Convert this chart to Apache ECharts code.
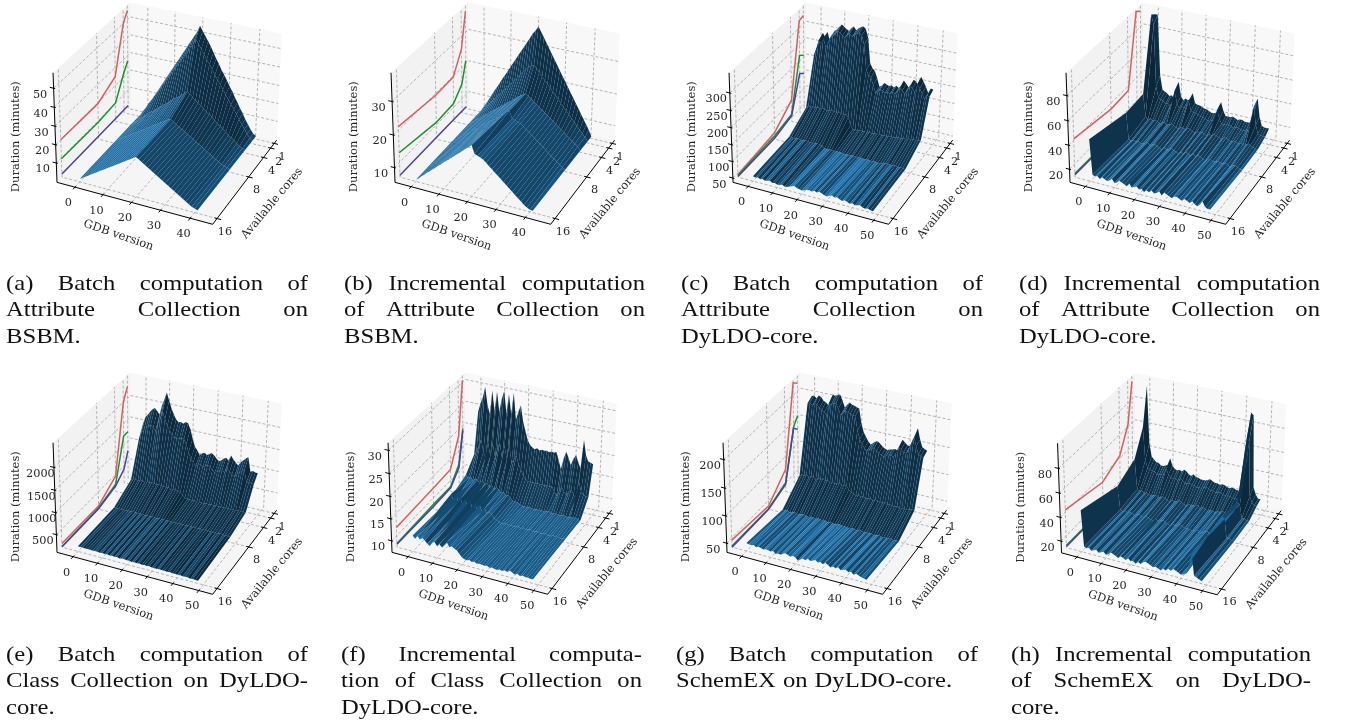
<!DOCTYPE html>
<html><head><meta charset="utf-8">
<style>html,body{margin:0;padding:0;background:#fff}#c{width:1346px;height:724px}</style>
<script src="https://cdn.jsdelivr.net/npm/echarts@6/dist/echarts.min.js"></script>
</head><body><div id="c"></div>
<script>
const coreRows=[1,2,4,8,16];
const xTicks40=[0,10,20,30,40];
const xTicks50=[0,10,20,30,40,50];

const a1=[1,3.6,6.3,8.9,11.6,14.2,16.9,19.5,22.2,24.8,27.5,30,32.7,35.3,38,40.6,43.3,45.9,48.6,51.2,55,52.5,50,47.5,45,42,39,36.5,33.5,31,28.5,25.5,23,20,17.5,14.5,12,9,6.5,4,2,1];
const a2=[1,3.3,5.6,8.3,10.6,13,15.3,17.6,20.4,22.7,25,27.3,29.6,32.4,34.7,37,39.3,41.6,44.4,46.7,50,47.6,45.3,42.6,40.2,38,35.6,32.8,30.5,28.2,25.9,23.1,20.8,18.5,16.2,13.9,11.1,8.8,6.5,4.2,2,1];
const a4=[1,2,3.5,5,6,7.5,9,10,11,12.5,13.5,15,16,17,18.5,20,21,22,23.5,24.5,26,25,23.5,22,21,20,18.5,17,16,15,13.5,12,11,10,8.5,7,6,5,3.5,2.5,1.5,1];
const a8=[1,2,3,4,5,6,7,8,9,10,11,12,13,14,15,16,17,18,19,20,20.5,19.5,18.5,17.5,16.5,15.5,14.5,13.5,12.5,11.5,10.5,9.5,8.5,7.5,6.5,5.5,4.5,3.5,2.5,2,1.5,1];
const a16=[1,2,3,4,5,6,7,8,9,10,11,12,13,14,15,16,17,18,19,20,21,20,19,18,17,16,15,14,13,12,11,10,9,8,7,6,5,4,3,2,1.5,1];
const aRed=[55,50,25,19.5,20],aGreen=[27,22,10,9,9.5],aPurple=[1,1,1,1,1];

const b1=[6,7.5,8.9,10.4,11.9,13.4,14.8,16.3,17.8,19.2,20.7,22.2,23.7,25.1,26.6,28.1,29.5,31,32.5,34,35.1,36.5,35,33.5,32,30.4,28.9,27.4,25.9,24.4,22.9,21.4,19.9,18.4,16.9,15.4,13.9,12.4,10.9,9.4,7.9,6];
const b2=[6,7,8,9,10,11,12,13,14,15,16,17,18,19,20,21,22,23,24,25,25.5,26,25,24,23,22,21,20,19,18,17,16,15,14,13,12,11,10,9,8,7,6];
const b4=[6,6.6,7.3,8,8.6,9.3,10,10.6,11.3,12,12.6,13.3,14,14.6,15.3,16,16.6,17.3,18,18.6,19.3,19.8,19.2,18.5,17.8,17.2,16.5,15.8,15.1,14.5,13.8,13.1,12.4,11.8,11.1,10.4,9.7,9,8.3,7.7,7,6];
const b8=[6,6.7,7.4,8,8.7,9.4,10,10.7,11.4,12,12.7,13.4,14,14.7,15.4,16,16.7,17.4,18,18.7,19.4,20,17.8,17.5,17.2,16.9,16.2,15.5,14.8,14.1,13.4,12.7,12,11.3,10.6,9.9,9.2,8.5,7.8,7.1,6.5,6];
const b16=[6,6.7,7.5,8.2,9,9.7,10.5,11.2,12,12.7,13.5,14.2,15,15.7,16.5,17.2,18,18.7,19.5,20.2,21,18.6,18.2,17.9,17.5,16.8,16,15.3,14.5,13.8,13,12.3,11.5,10.8,10,9.3,8.5,7.8,7,6.5,6,6];
const bRed=[36.5,26,19.7,19.4,21],bGreen=[21,14.7,11.2,10.8,13],bPurple=[6,6,6,6,6];

const c1=[240,258,286,275,292,265,288,300,305,315,323,318,312,308,318,325,315,322,328,331,325,300,225,212,205,185,160,165,175,172,169,172,168,175,170,180,196,188,179,190,205,200,190,218,205,192,175,190,188];
const c2=[230,250,275,268,285,258,280,290,298,306,315,312,305,300,310,316,308,315,320,324,318,292,218,205,198,178,155,160,168,166,162,166,162,168,165,174,188,180,172,184,198,194,184,210,198,185,170,183,180];
const c4=[91,98,96,100,97,102,99,103,100,98,100,104,101,99,103,100,98,101,92,70,58,60,58,62,59,61,60,63,60,62,62,64,61,64,62,66,63,66,65,68,66,70,68,71,69,73,71,74,76];
const c8=[56,57,55,56,57,55,56,57,56,54,56,55,57,55,54,48,46,47,49,47,48,46,47,45,46,46,45,47,46,45,47,45,44,46,44,45,46,44,45,45,48,49,47,48,49,47,48,47,46];
const c16=[52,50,53,49,51,48,50,52,47,49,46,48,50,46,47,50,53,56,52,50,48,51,54,55,53,57,54,58,55,52,50,54,57,53,56,52,49,53,50,47,50,46,48,50,46,44,47,44,43];
const cRed=[326,322,104,57,44],cGreen=[205,217,60,47,42],cPurple=[148,161,55,40,39];

const d1=[93,93,42,30,29,28,26,27,25,30,40,28,25,27,26,28,33,25,24,24,23,22,22,21,20,20,21,22,31,24,20,20,20,21,20,19,20,20,19,19,19,21,30,41,26,19,18,18,18];
const d2=[96,88,36,27,26,25,23,24,22,27,36,25,22,24,23,25,30,22,21,21,20,19,19,18,17,17,18,19,28,21,17,17,17,18,17,16,17,17,16,16,16,18,27,38,23,16,15,15,15];
const d4=[36,17,15,16,15,16,15,14,15,16,14,15,16,15,14,13,15,15,14,16,15,14,13,15,14,15,14,13,15,14,16,15,14,13,15,15,14,13,14,14,13,14,13,13,15,14,13,12,12];
const d8=[35,13,12,13,12,13,12,12,13,14,12,13,14,13,12,11,13,12,13,14,13,12,11,13,12,14,13,12,14,12,14,13,12,11,13,13,12,12,13,12,12,13,12,11,13,13,12,11,11];
const d16=[44,15,14,15,13,15,14,13,14,16,13,14,16,15,14,13,16,13,14,15,13,14,12,14,13,15,13,14,16,13,16,15,14,13,15,15,14,13,15,14,13,15,13,12,14,17,13,12,12];
const dRed=[93,96,36,35,41],dGreen=[16,16,11,11,12],dPurple=[14,14,10.5,10,11];

const e1=[1500,1655,1720,1800,1870,1909,1850,1782,2000,2150,2322,2150,1980,1860,1750,1703,1720,1690,1740,1727,1600,1400,1219,1150,1052,1100,1130,1090,1120,1163,1120,1060,1012,1040,1090,1130,1070,1203,1120,1060,1012,1100,1150,1210,1251,933,960,940,933];
const e2=[1250,1400,1450,1500,1580,1620,1560,1500,1680,1800,1980,1820,1680,1580,1480,1440,1450,1430,1470,1460,1350,1180,1030,970,890,930,950,920,945,980,945,890,850,880,920,950,900,1015,945,895,850,925,970,1020,1055,790,810,790,785];
const e4=[460,490,500,480,510,495,480,505,490,515,507,490,520,480,500,470,495,460,480,470,460,440,390,345,320,330,318,325,312,326,320,310,328,315,332,318,335,322,338,325,340,328,338,330,342,335,345,338,340];
const e8=[225,228,226,230,224,228,233,227,236,230,235,229,234,226,232,228,234,229,225,234,228,232,225,234,228,226,232,227,234,229,226,232,227,234,228,225,233,227,232,228,224,230,225,228,231,224,229,225,222];
const e16=[212,208,212,206,210,206,200,208,203,196,203,198,206,192,200,194,202,186,196,199,188,194,180,190,183,192,178,185,176,187,178,181,170,183,173,176,165,179,168,172,163,174,159,166,169,154,164,157,152];
const eRed=[2270,2000,460,170,178],eGreen=[1219,1211,264,120,106],ePurple=[767,417,225,100,100];

const f1=[24,26,27.5,30,26,24,29.5,25,29.5,25,28,30,25,29.5,25,30,24,26,27.5,24,22,20,19,18.5,18.2,18.6,18.2,18.5,18.4,18.5,18.3,18.6,18.4,18.7,17,15,17.5,19.3,18,16.4,18,19,17.5,16.2,22.8,19.5,18.2,18,17.8];
const f2=[15,16,17,19,16,15,18.5,15.5,18.5,15.5,17.5,19,15.5,18.5,15.5,19,15,16,17,15,14,12.5,12,11.6,11.5,11.7,11.5,11.6,11.6,11.6,11.5,11.7,11.6,11.8,10.7,9.8,11,12,11.3,10.4,11.3,12,11,10.3,14.2,12.2,11.5,11.3,11.2];
const f4=[12.2,11.5,12,11.2,11.8,11.6,10.8,11.7,11,11.5,10.6,11.2,10.4,10.9,10.5,10,10.2,9.6,9.8,9.2,8.7,8.6,8.5,8.3,7.9,8.1,7.9,8.2,8,7.9,8.1,8,8.2,7.9,8.1,8.3,7.9,8,8.2,7.9,8,8.2,8.1,7.9,8.2,8.1,8.3,8,8];
const f8=[10.5,12,10,12,10.5,11.5,9.7,11.5,10,11.5,9.6,11,9.8,11,9.6,10.5,9.5,10,9.6,8.8,8.5,8.2,8,8.1,8.2,8,8.2,8,8.1,8.2,8,8.2,8,8.1,8.3,8,8.1,8.2,8,8.1,8.2,8,8.1,8.3,8,8.2,8,8.1,8.1];
const f16=[11,10.4,11.2,10.5,11,10.6,10,9.6,10.5,10.8,10,10.6,10,10.6,11.5,10.5,10.9,10.5,10.3,9.6,9,8.7,8.6,8.8,8.5,8.7,8.4,8.6,8.5,8.4,8.6,8.3,8.5,8.3,8.2,8.5,8.3,8.6,8.4,8.9,8.5,8.3,8.6,8.2,8.5,8.3,8.4,8.2,8.3];
const fRed=[30.4,18.5,12.6,12.3,11.85],fGreen=[19.3,11.8,8.5,8.5,8.2],fPurple=[18.8,11,8.2,8,8];

const g1=[196,198,194,200,198,192,190,186,183,207,205,208,210,200,188,194,199,196,195,193,192,165,150,142,135,130,134,138,139,135,131,128,127,129,130,132,130,141,152,148,144,143,150,165,179,160,146,144,142];
const g2=[190,192,188,193,191,186,184,180,177,198,197,200,201,192,181,187,192,189,188,186,185,160,145,137,130,126,129,133,134,130,127,124,123,125,126,128,126,136,146,143,139,138,145,159,170,155,141,139,137];
const g4=[70,73,72,75,71,74,73,70,74,72,75,72,74,71,73,70,72,74,71,73,71,66,62,60,58,60,57,59,56,58,58,56,59,56,57,55,58,54,56,55,54,56,53,55,54,56,55,57,56];
const g8=[39,38,40,37,38,40,38,37,39,40,38,37,39,38,37,39,38,37,38,36,38,37,36,37,38,36,37,35,36,37,36,35,37,36,34,36,35,36,34,35,36,34,35,34,36,35,34,35,34];
const g16=[48,47,46,48,45,47,46,44,46,45,44,46,42,44,43,46,48,46,44,47,45,41,44,47,45,49,46,48,50,47,49,46,50,47,44,47,45,48,44,46,47,44,46,42,45,43,41,40,39];
const gRed=[214,222,75,39,46],gGreen=[154,140,50,34,35],gPurple=[128,138,47,33,33];

const h1=[94,45,34,32,30,30,28,28,29,30,36,30,28,27,28,27,29,28,26,25,27,25,25,24,24,24,25,26,25,24,24,23,24,24,23,22,23,23,22,22,21,22,50,90,88,28,22,19,19];
const h2=[62,34,28,27,26,26,24,24,25,26,31,26,24,23,24,23,25,24,22,22,23,22,22,21,21,21,22,23,22,21,21,20,21,21,20,19,20,20,19,19,18,19,40,72,70,24,19,17,17];
const h4=[42,16,15,16,14,15,14,13,14,15,13,14,15,14,13,12,14,13,14,15,14,13,12,14,13,14,15,14,13,14,13,12,13,13,12,14,13,15,14,13,12,13,18,26,24,13,13,12,12];
const h8=[34,14,13,14,13,14,13,12,13,14,13,12,14,13,12,11,14,12,13,14,13,12,11,13,12,13,14,13,12,12,12,11,12,13,12,12,13,14,13,12,11,13,18,30,28,12,13,11,11];
const h16=[45,15,14,15,13,14,15,13,14,15,13,14,16,15,14,13,15,14,13,15,13,14,12,14,13,15,16,15,14,13,14,13,12,14,13,15,14,16,15,14,13,14,15,24,33,15,14,13,12];
const hRed=[95,62,42,34,42],hGreen=[14,14,11,11,12],hPurple=[13,13,10.5,10.5,11];

const zTicksA=[10,20,30,40,50],zTicksB=[10,20,30],zTicksC=[50,100,150,200,250,300],zTicksD=[20,40,60,80],zTicksE=[500,1000,1500,2000],zTicksF=[10,15,20,25,30],zTicksG=[50,100,150,200],zTicksH=[20,40,60,80];

const captionA=["(a) Batch computation of","Attribute Collection on","BSBM."];
const captionB=["(b) Incremental computation","of Attribute Collection on","BSBM."];
const captionC=["(c) Batch computation of","Attribute Collection on","DyLDO-core."];
const captionD=["(d) Incremental computation","of Attribute Collection on","DyLDO-core."];
const captionE=["(e) Batch computation of","Class Collection on DyLDO-","core."];
const captionF=["(f) Incremental computa-","tion of Class Collection on","DyLDO-core."];
const captionG=["(g) Batch computation of","SchemEX on DyLDO-core."];
const captionH=["(h) Incremental computation","of SchemEX on DyLDO-","core."];

const panels=[
 {rows:[a1,a2,a4,a8,a16],lines:[aRed,aGreen,aPurple],xTicks:xTicks40,zTicks:zTicksA,xLim:[-6.5,47.5],zLim:[-0.7,58],off:[0,0],cap:captionA,capBox:[6,308,284]},
 {rows:[b1,b2,b4,b8,b16],lines:[bRed,bGreen,bPurple],xTicks:xTicks40,zTicks:zTicksB,xLim:[-5.9,48.5],zLim:[5.4,38.4],off:[338,0],cap:captionB,capBox:[344,645,284]},
 {rows:[c1,c2,c4,c8,c16],lines:[cRed,cGreen,cPurple],xTicks:xTicks50,zTicks:zTicksC,xLim:[-6.3,55.7],zLim:[37,357],off:[676,0],cap:captionC,capBox:[681,983,284]},
 {rows:[d1,d2,d4,d8,d16],lines:[dRed,dGreen,dPurple],xTicks:xTicks50,zTicks:zTicksD,xLim:[-6.4,55.6],zLim:[9,98],off:[1013,0],cap:captionD,capBox:[1019,1320,284]},
 {rows:[e1,e2,e4,e8,e16],lines:[eRed,eGreen,ePurple],xTicks:xTicks50,zTicks:zTicksE,xLim:[-6.7,55.3],zLim:[92,2530],off:[0,370],cap:captionE,capBox:[6,308,655]},
 {rows:[f1,f2,f4,f8,f16],lines:[fRed,fGreen,fPurple],xTicks:xTicks50,zTicks:zTicksF,xLim:[-6.7,55.3],zLim:[7.35,31.6],off:[335,370],cap:captionF,capBox:[341,642,655]},
 {rows:[g1,g2,g4,g8,g16],lines:[gRed,gGreen,gPurple],xTicks:xTicks50,zTicks:zTicksG,xLim:[-6.1,55.9],zLim:[33,229],off:[670,370],cap:captionG,capBox:[676,978,655]},
 {rows:[h1,h2,h4,h8,h16],lines:[hRed,hGreen,hPurple],xTicks:xTicks50,zTicks:zTicksH,xLim:[-6.4,55.6],zLim:[10,100],off:[1004.5,370.5],cap:captionH,capBox:[1011,1311,655]}
];

const yLim=[17.05,0.3];
const lineColors=['#d65f5f','#1f8f2f','#4b3f9f'];
const base=[31,119,180];
const LIGHT=[-0.667,-0.667,0.333];
const tickFont='11.3px "DejaVu Serif"';
const labelFont='11.5px "DejaVu Serif"';
const inkColor='#262626';

// camera calibration of the unit axis box (pixels of the first panel)
const calib=[
 [0,0,0,57.3,182.7],[1,0,0,212.7,224],[1,1,0,276.7,140.7],[0,1,0,130.7,105],
 [0,0,1,52.7,72.7],[0,1,1,130.7,2.7],[1,1,1,281.7,33.3]];
function solve(A,b){const n=b.length;const M=A.map((r,i)=>r.concat(b[i]));
 for(let i=0;i<n;i++){let p=i;for(let k=i+1;k<n;k++)if(Math.abs(M[k][i])>Math.abs(M[p][i]))p=k;
  [M[i],M[p]]=[M[p],M[i]];
  for(let k=0;k<n;k++){if(k===i)continue;const f=M[k][i]/M[i][i];for(let j=i;j<=n;j++)M[k][j]-=f*M[i][j];}}
 return M.map((r,i)=>r[n]/r[i]);}
const P=(function(){const rows=[],rhs=[];
 calib.forEach(([u,v,w,X,Y])=>{rows.push([u,v,w,1,0,0,0,0,-X*u,-X*v,-X*w]);rhs.push(X);
  rows.push([0,0,0,0,u,v,w,1,-Y*u,-Y*v,-Y*w]);rhs.push(Y);});
 const n=11,AtA=[],Atb=[];
 for(let i=0;i<n;i++){AtA.push([]);let s=0;for(let j=0;j<n;j++){let t=0;rows.forEach(r=>t+=r[i]*r[j]);AtA[i].push(t);}
  rows.forEach((r,k)=>s+=r[i]*rhs[k]);Atb.push(s);}
 return solve(AtA,Atb);})();
function cube(u,v,w,off){const d=P[8]*u+P[9]*v+P[10]*w+1;
 return [(P[0]*u+P[1]*v+P[2]*w+P[3])/d+off[0],(P[4]*u+P[5]*v+P[6]*w+P[7])/d+off[1]];}
const depthOf=(u,v,w)=>P[8]*u+P[9]*v+P[10]*w+1;
const farSign=depthOf(0,1,0)>depthOf(1,0,0)?1:-1;
const U=(p,x)=>(x-p.xLim[0])/(p.xLim[1]-p.xLim[0]);
const V=y=>(yLim[0]-y)/(yLim[0]-yLim[1]);
const W=(p,z)=>(z-p.zLim[0])/(p.zLim[1]-p.zLim[0]);

function line(pts,style){return {type:'polyline',silent:true,shape:{points:pts},style:Object.assign({fill:null},style)};}
function text(t,x,y,font,rot){return {type:'text',silent:true,x:x,y:y,rotation:rot||0,style:{text:String(t),font:font,fill:inkColor,align:'center',verticalAlign:'middle'}};}

function renderFrame(p){
 const off=p.off,c=[],C=(u,v,w)=>cube(u,v,w,off);
 const poly=(pts,fill)=>c.push({type:'polygon',silent:true,shape:{points:pts},style:{fill:fill}});
 poly([C(0,0,0),C(0,1,0),C(0,1,1),C(0,0,1)],'#f2f2f2');
 poly([C(0,1,0),C(1,1,0),C(1,1,1),C(0,1,1)],'#f8f8f8');
 poly([C(0,0,0),C(1,0,0),C(1,1,0),C(0,1,0)],'#f5f5f5');
 const g={stroke:'#ababab',lineWidth:0.9,lineDash:[3,2]};
 p.xTicks.forEach(t=>{const u=U(p,t);c.push(line([C(u,0,0),C(u,1,0),C(u,1,1)],g));});
 coreRows.forEach(t=>{const v=V(t);c.push(line([C(1,v,0),C(0,v,0),C(0,v,1)],g));});
 p.zTicks.forEach(t=>{const w=W(p,t);c.push(line([C(0,0,w),C(0,1,w),C(1,1,w)],g));});
 return {type:'group',children:c};
}
function renderAxes(p){
 const off=p.off,c=[],C=(u,v,w)=>cube(u,v,w,off);
 const k={stroke:'#000',lineWidth:1};
 c.push(line([C(0,0,1),C(0,0,0),C(1,0,0),C(1,1,0)],k));
 p.xTicks.forEach(t=>{const u=U(p,t),a=C(u,-0.025,0);c.push(line([C(u,0.012,0),a],k));
  const q=C(u,0,0);c.push(text(t,q[0]-6.5,q[1]+16,tickFont));});
 coreRows.forEach(t=>{const v=V(t);c.push(line([C(0.985,v,0),C(1.025,v,0)],k));
  const q=C(1,v,0);c.push(text(t,q[0]+8,q[1]+13.5,tickFont));});
 p.zTicks.forEach(t=>{const w=W(p,t);c.push(line([C(0.01,0,w),C(-0.025,0,w)],k));
  const q=C(0,0,w);c.push(text(t,q[0]-13.5,q[1]+6.5,tickFont));});
 const m1=C(0.5,0,0),m2=C(1,0.5,0),m3=C(0,0,0.5);
 c.push(text('GDB version',m1[0]-14.5,m1[1]+32.5,labelFont,-19*Math.PI/180));
 c.push(text('Available cores',m2[0]+26,m2[1]+23,labelFont,50*Math.PI/180));
 c.push(text('Duration (minutes)',m3[0]-39,m3[1]+8,labelFont,Math.PI/2));
 return {type:'group',children:c};
}
function renderWallLines(p,idx){
 return {type:'group',children:p.lines.map((vals,i)=>line(vals.map((z,j)=>cube(0,V(coreRows[j]),W(p,z),p.off)),{stroke:lineColors[i],lineWidth:1.5}))};
}
function cellColor(p,i,r){
 const a=[i,coreRows[r],p.rows[r][i]],b=[i+1,coreRows[r],p.rows[r][i+1]],
       c=[i+1,coreRows[r+1],p.rows[r+1][i+1]],d=[i,coreRows[r+1],p.rows[r+1][i]];
 const e=[c[0]-a[0],c[1]-a[1],c[2]-a[2]],f=[d[0]-b[0],d[1]-b[1],d[2]-b[2]];
 let n=[e[1]*f[2]-e[2]*f[1],e[2]*f[0]-e[0]*f[2],e[0]*f[1]-e[1]*f[0]];
 if(n[2]<0)n=n.map(t=>-t);
 const len=Math.hypot(n[0],n[1],n[2])||1;
 const s=(n[0]*LIGHT[0]+n[1]*LIGHT[1]+n[2]*LIGHT[2])/len;
 const k=0.3+0.7*(s+1)/2;
 return 'rgb('+base.map(t=>Math.round(t*k)).join(',')+')';
}
function sortedCells(p){
 const out=[];const n=p.rows[0].length;
 for(let r=0;r<4;r++)for(let i=0;i<n-1;i++){
  let d=0;[[i,r],[i+1,r],[i+1,r+1],[i,r+1]].forEach(([a,b])=>{d+=depthOf(U(p,a),V(coreRows[b]),W(p,p.rows[b][a]));});
  out.push([i,r,d*farSign]);}
 out.sort((s,t)=>t[2]-s[2]);
 return out;
}
const series=[];
panels.forEach(p=>{
 series.push({type:'custom',coordinateSystem:'none',silent:true,z:1,data:[[0]],renderItem:()=>renderFrame(p)});
 series.push({type:'custom',coordinateSystem:'none',silent:true,z:2,data:[[0]],renderItem:()=>renderWallLines(p)});
 series.push({type:'custom',coordinateSystem:'none',silent:true,z:3,data:sortedCells(p),
  renderItem:(params,api)=>{const i=api.value(0),r=api.value(1);
   const pt=(a,b)=>cube(U(p,a),V(coreRows[b]),W(p,p.rows[b][a]),p.off);
   return {type:'polygon',silent:true,shape:{points:[pt(i,r),pt(i+1,r),pt(i+1,r+1),pt(i,r+1)]},style:{fill:cellColor(p,i,r)}};}});
 series.push({type:'custom',coordinateSystem:'none',silent:true,z:4,data:[[0]],renderItem:()=>renderAxes(p)});
});

// captions: justified like the typeset source, last line natural
const capFont='22px "Liberation Serif"',capScale=1.12,lineGap=26.5;
const mctx=document.createElement('canvas').getContext('2d');mctx.font=capFont;
const graphicEls=[];
panels.forEach(p=>{
 const [x0,x1,y0]=p.capBox;
 p.cap.forEach((ln,li)=>{
  const words=ln.split(' '),w=words.map(t=>mctx.measureText(t).width*capScale);
  const sum=w.reduce((s,t)=>s+t,0),last=li===p.cap.length-1;
  const gap=(last||words.length<2)?7:(x1-x0-sum)/(words.length-1);
  let x=x0;
  words.forEach((t,i)=>{graphicEls.push({type:'text',silent:true,x:x,y:y0+li*lineGap,scaleX:capScale,style:{text:t,font:capFont,fill:'#111',textAlign:'left',textVerticalAlign:'middle'}});x+=w[i]+gap;});
 });
});

const chart=echarts.init(document.getElementById('c'),null,{renderer:'canvas',width:1346,height:724});
chart.setOption({animation:false,backgroundColor:'#fff',series:series,graphic:{elements:graphicEls}});
</script></body></html>
